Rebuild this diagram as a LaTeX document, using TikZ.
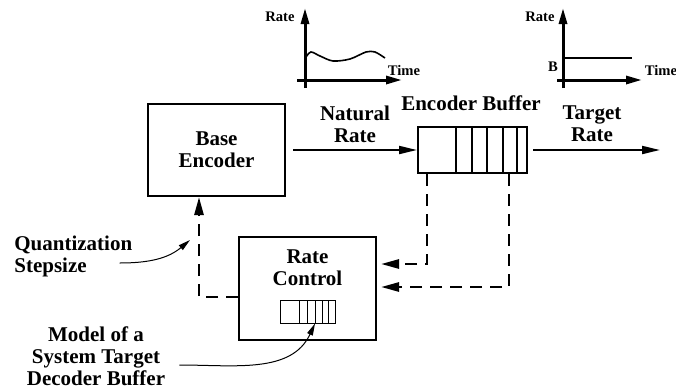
\documentclass[tikz,border=0pt]{standalone}
\usepackage{fontspec}
\setmainfont{Liberation Serif}
\usetikzlibrary{arrows.meta, positioning}

\begin{document}
\begin{tikzpicture}[
	x=0.5pt, y=-0.5pt,
	block/.style={draw, line width=1pt, inner sep=0pt},
	txt/.style={font=\fontsize{10.5}{11}\selectfont\bfseries, align=center, inner sep=0pt},
	small/.style={font=\fontsize{7.3}{8}\selectfont\bfseries, inner sep=0pt},
	flow/.style={line width=1pt, -{Triangle[length=9pt, width=4pt]}},
	ctrl/.style={line width=1.3pt, dash pattern=on 6pt off 4pt, -{Triangle[length=9pt, width=4.5pt]}},
	note/.style={line width=0.5pt, -{Triangle[length=6pt, width=3pt]}},
	axis/.style={line width=1.5pt, -{Triangle[length=8pt, width=4pt]}}
]

\useasboundingbox (0,0) rectangle (676,387);

% blocks
\node[block, txt, minimum width=68.5pt, minimum height=46pt] (be) at (216.5,150) {Base\\Encoder};
\node[block, minimum width=54.5pt, minimum height=23pt] (eb) at (472.5,150) {};
\foreach \x in {456,472,487,503,517} {
	\draw[line width=1pt] (\x,127) -- (\x,173);
}
\node[block, minimum width=68.5pt, minimum height=51.5pt] (rc) at (307.5,288.5) {};
\node[txt] (rct) at (307.5,268) {Rate\\Control};
\node[draw, line width=0.5pt, inner sep=0pt, minimum width=27.5pt, minimum height=11.5pt] (sb) at (307.5,311.5) {};
\foreach \x in {299,307,315,322,328} {
	\draw[line width=0.5pt] (\x,300) -- (\x,323);
}

% labels
\node[txt] (ebl) at (471,103) {Encoder Buffer};
\node[txt] (nr) at (355,124) {Natural\\Rate};
\node[txt] (tr) at (592,124) {Target\\Rate};
\node[txt, align=left, anchor=west] (qs) at (14,256) {Quantization\\Stepsize};
\node[txt] (md) at (96,356) {Model of a\\System Target\\Decoder Buffer};

% data flow
\coordinate (out) at (660,150);
\draw[flow] ([xshift=3.5pt]be.east) -- (eb.west);
\draw[flow] ([xshift=2.5pt]eb.east) -- (out);

% buffer fullness back to rate control
\draw[ctrl] ([xshift=5pt]eb.south west) |- ([xshift=2pt,yshift=12.25pt]rc.east);
\draw[ctrl] ([xshift=-9.5pt]eb.south east) |- ([xshift=2pt,yshift=0.75pt]rc.east);
\draw[ctrl] ([yshift=-4.25pt]rc.west) -| ([xshift=-8.75pt]be.south);

% notes
\coordinate (qtip) at (190,240);
\draw[note] ([xshift=-6.5pt,yshift=-3.5pt]qs.east) to[out=0, in=-140] (qtip);
\draw[note] ([xshift=7pt,yshift=-4.5pt]md.east) to[out=0, in=-115] ([xshift=3.75pt]sb.south);

% natural rate plot
\draw[axis] (305,88) -- (305,8);
\draw[axis] (297,80) -- (402,80);
\draw[line width=0.8pt] plot[smooth] coordinates {(306,57) (311,52) (320,56) (333,61) (350,59) (366,52) (375,52) (385,58)};
\node[small] (r1) at (280,17) {Rate};
\node[small] (t1) at (404,70) {Time};

% target rate plot
\draw[axis] (563,88) -- (563,8);
\draw[axis] (557,80) -- (642,80);
\draw[line width=1pt] (563,58) -- (632,58);
\node[small] (r2) at (540,17) {Rate};
\node[small] (b2) at (553,67) {B};
\node[small] (t2) at (661,70) {Time};

\end{tikzpicture}
\end{document}
